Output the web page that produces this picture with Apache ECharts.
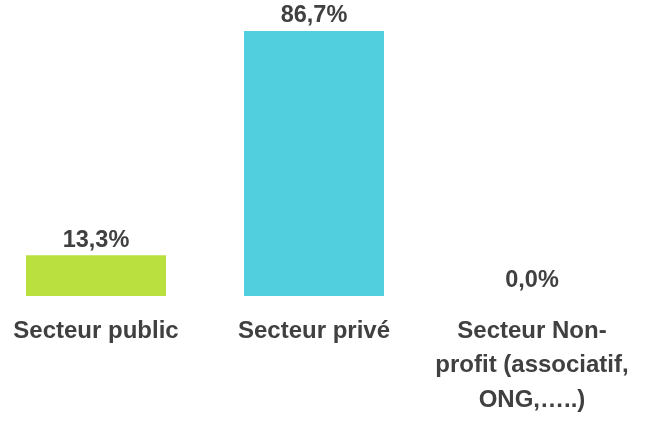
<!DOCTYPE html>
<html><head><meta charset="utf-8">
<script src="https://cdn.jsdelivr.net/npm/echarts@6/dist/echarts.min.js"></script>
<style>html,body{margin:0;padding:0;background:#fff}#c{width:648px;height:421px}</style>
</head><body><div id="c"></div>
<script>
const categories = ['Secteur public', 'Secteur privé', 'Secteur Non-\nprofit (associatif,\nONG,…..)'];
const values = [13.3, 86.7, 0.0];
const colors = ['#B9E03F', '#52CFDF', '#A5A5A5'];

const chart = echarts.init(document.getElementById('c'), null, {renderer: 'canvas'});
chart.setOption({
  animation: false,
  grid: {left: -13, right: 7, top: 31, bottom: 125, containLabel: false, outerBoundsMode: 'none'},
  xAxis: {
    type: 'category', data: categories,
    axisLine: {show: false}, axisTick: {show: false},
    axisLabel: {interval: 0, margin: 18, fontFamily: 'Liberation Sans, Arial', fontWeight: 'bold', fontSize: 24, color: '#404040', lineHeight: 34.5, verticalAlign: 'top'}
  },
  yAxis: {type: 'value', min: 0, max: 86.7, show: false, splitLine: {show: false}},
  series: [{
    type: 'bar', barWidth: 140,
    data: values.map((v, i) => ({value: v, itemStyle: {color: colors[i]}})),
    label: {show: true, position: 'top', distance: 3, formatter: p => p.value.toFixed(1).replace('.', ',') + '%',
      fontFamily: 'Liberation Sans, Arial', fontWeight: 'bold', fontSize: 23.5, color: '#404040'}
  }]
});
</script></body></html>
